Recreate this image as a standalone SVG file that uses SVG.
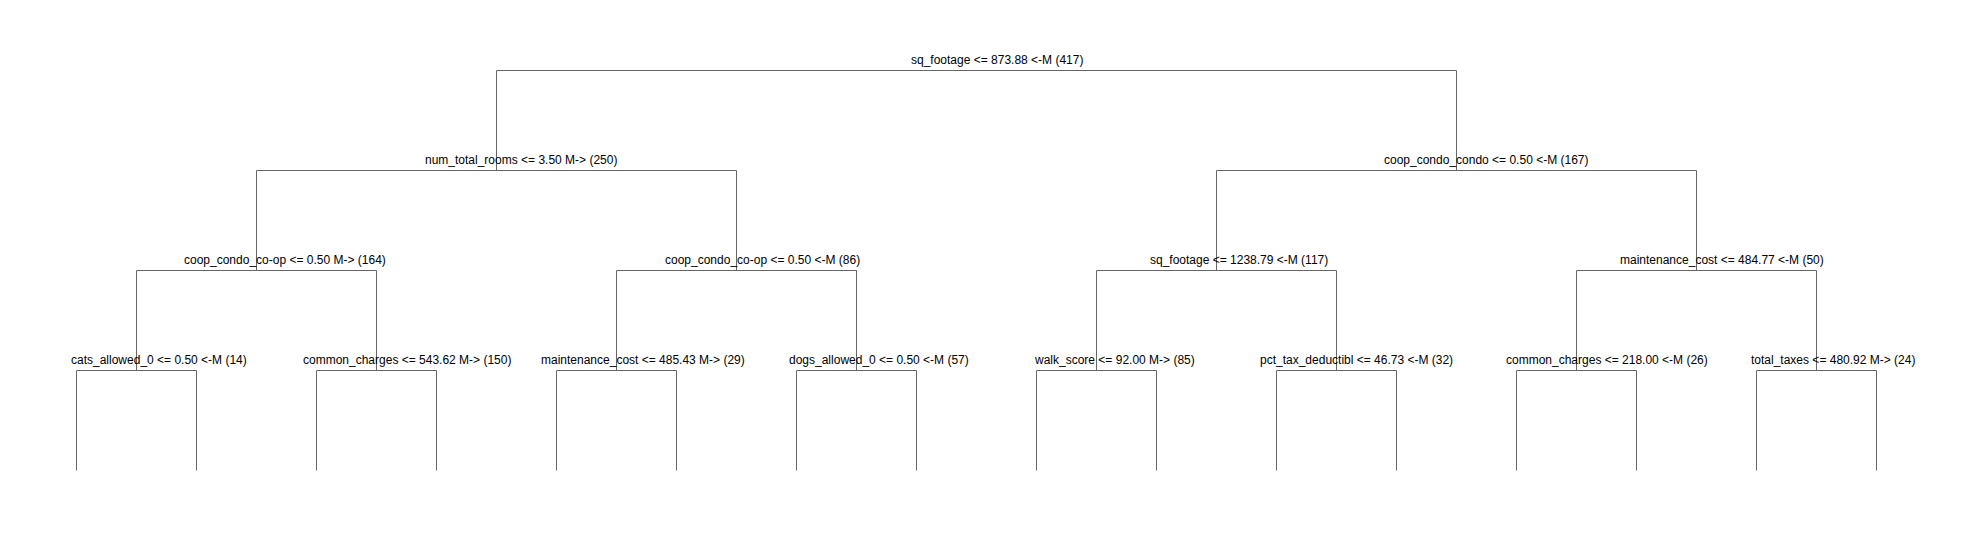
<svg xmlns="http://www.w3.org/2000/svg" width="1984" height="540" viewBox="0 0 1984 540">
<style>
.bg{fill:#ffffff}
.edge{fill:none;stroke:#666666;stroke-width:1}
.lbl{font-family:"Liberation Sans",Arial,sans-serif;font-size:12px;fill:#000000}
</style>
<rect class="bg" x="0" y="0" width="1984" height="540"/>
<g id="connectors">
<path class="edge" d="M496.5,70.5 H1456.5 M496.5,70.5 V170.5 M1456.5,70.5 V170.5"/>
<path class="edge" d="M256.5,170.5 H736.5 M256.5,170.5 V270.5 M736.5,170.5 V270.5"/>
<path class="edge" d="M1216.5,170.5 H1696.5 M1216.5,170.5 V270.5 M1696.5,170.5 V270.5"/>
<path class="edge" d="M136.5,270.5 H376.5 M136.5,270.5 V370.5 M376.5,270.5 V370.5"/>
<path class="edge" d="M616.5,270.5 H856.5 M616.5,270.5 V370.5 M856.5,270.5 V370.5"/>
<path class="edge" d="M1096.5,270.5 H1336.5 M1096.5,270.5 V370.5 M1336.5,270.5 V370.5"/>
<path class="edge" d="M1576.5,270.5 H1816.5 M1576.5,270.5 V370.5 M1816.5,270.5 V370.5"/>
<path class="edge" d="M76.5,370.5 H196.5 M76.5,370.5 V470.5 M196.5,370.5 V470.5"/>
<path class="edge" d="M316.5,370.5 H436.5 M316.5,370.5 V470.5 M436.5,370.5 V470.5"/>
<path class="edge" d="M556.5,370.5 H676.5 M556.5,370.5 V470.5 M676.5,370.5 V470.5"/>
<path class="edge" d="M796.5,370.5 H916.5 M796.5,370.5 V470.5 M916.5,370.5 V470.5"/>
<path class="edge" d="M1036.5,370.5 H1156.5 M1036.5,370.5 V470.5 M1156.5,370.5 V470.5"/>
<path class="edge" d="M1276.5,370.5 H1396.5 M1276.5,370.5 V470.5 M1396.5,370.5 V470.5"/>
<path class="edge" d="M1516.5,370.5 H1636.5 M1516.5,370.5 V470.5 M1636.5,370.5 V470.5"/>
<path class="edge" d="M1756.5,370.5 H1876.5 M1756.5,370.5 V470.5 M1876.5,370.5 V470.5"/>
</g>
<g id="n_root"><text class="lbl" x="911" y="64">sq_footage &lt;= 873.88 &lt;-M (417)</text></g>
<g id="n_l"><text class="lbl" x="425" y="164">num_total_rooms &lt;= 3.50 M-&gt; (250)</text></g>
<g id="n_r"><text class="lbl" x="1384" y="164">coop_condo_condo &lt;= 0.50 &lt;-M (167)</text></g>
<g id="n_ll"><text class="lbl" x="184" y="264">coop_condo_co-op &lt;= 0.50 M-&gt; (164)</text></g>
<g id="n_lr"><text class="lbl" x="665" y="264">coop_condo_co-op &lt;= 0.50 &lt;-M (86)</text></g>
<g id="n_rl"><text class="lbl" x="1150" y="264">sq_footage &lt;= 1238.79 &lt;-M (117)</text></g>
<g id="n_rr"><text class="lbl" x="1620" y="264">maintenance_cost &lt;= 484.77 &lt;-M (50)</text></g>
<g id="n_lll"><text class="lbl" x="71" y="364">cats_allowed_0 &lt;= 0.50 &lt;-M (14)</text></g>
<g id="n_llr"><text class="lbl" x="303" y="364">common_charges &lt;= 543.62 M-&gt; (150)</text></g>
<g id="n_lrl"><text class="lbl" x="541" y="364">maintenance_cost &lt;= 485.43 M-&gt; (29)</text></g>
<g id="n_lrr"><text class="lbl" x="789" y="364">dogs_allowed_0 &lt;= 0.50 &lt;-M (57)</text></g>
<g id="n_rll"><text class="lbl" x="1035" y="364">walk_score &lt;= 92.00 M-&gt; (85)</text></g>
<g id="n_rlr"><text class="lbl" x="1260" y="364">pct_tax_deductibl &lt;= 46.73 &lt;-M (32)</text></g>
<g id="n_rrl"><text class="lbl" x="1506" y="364">common_charges &lt;= 218.00 &lt;-M (26)</text></g>
<g id="n_rrr"><text class="lbl" x="1751" y="364">total_taxes &lt;= 480.92 M-&gt; (24)</text></g>
</svg>
